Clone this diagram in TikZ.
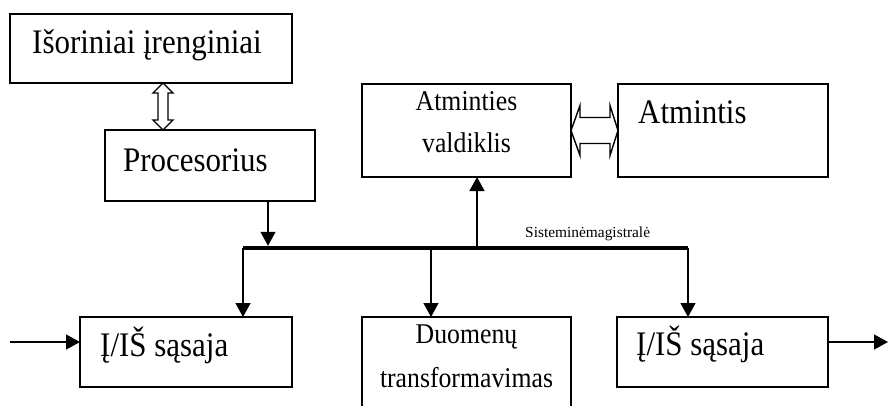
\documentclass[tikz,border=0pt]{standalone}
\usepackage{fontspec}
\setmainfont{Liberation Serif}
\newfontfamily\tallserif[FakeStretch=0.9]{Liberation Serif}
\usetikzlibrary{arrows.meta,calc}
\newcommand\bigfs{\tallserif\fontsize{34.4pt}{34.4pt}\selectfont}
\newcommand\midfs{\tallserif\fontsize{28.6pt}{28.6pt}\selectfont}
\newcommand\tinyfs{\fontsize{15.4pt}{15.4pt}\selectfont}
\tikzset{
  box/.style={draw, line width=1.4pt, rectangle, inner sep=0pt, outer sep=0pt, anchor=north west},
  lbl/.style={inner sep=0pt, anchor=base west},
  ctr/.style={inner sep=0pt, anchor=base},
  arr/.style={line width=1.4pt, -{Triangle[length=14pt,width=15pt]}},
  hollow/.style={draw, line width=1.4pt, fill=white, line join=miter},
  bus/.style={line width=4.5pt},
}
\begin{document}
\begin{tikzpicture}[x=1pt,y=-1pt]
\useasboundingbox (0,0) rectangle (888,405);
\clip (0,0) rectangle (888,405);

% blocks
\node[box, minimum width=282pt, minimum height=69pt]  (ext)  at (10,14)  {};
\node[box, minimum width=210pt, minimum height=71pt]  (proc) at (105,130) {};
\node[box, minimum width=209pt, minimum height=93pt]  (ctrl) at (362,84) {};
\node[box, minimum width=210pt, minimum height=93pt]  (mem)  at (618,84) {};
\node[box, minimum width=212pt, minimum height=70pt]  (io1)  at (80,317) {};
\node[box, minimum width=209pt, minimum height=100pt] (duo)  at (362,317) {};
\node[box, minimum width=211pt, minimum height=70pt]  (io2)  at (617,317) {};

% block texts
\node[lbl, font=\bigfs] (extT)  at (32,53)   {Išoriniai įrenginiai};
\node[lbl, font=\bigfs] (procT) at (123,171) {Procesorius};
\node[ctr, font=\midfs] (ctrlA) at (466.5,110) {Atminties};
\node[ctr, font=\midfs] (ctrlB) at (466.5,152) {valdiklis};
\node[lbl, font=\bigfs] (memT)  at (638,123) {Atmintis};
\node[lbl, font=\bigfs] (io1T)  at (100,356) {Į/IŠ sąsaja};
\node[ctr, font=\midfs] (duoA)  at (466.5,343) {Duomenų};
\node[ctr, font=\midfs] (duoB)  at (466.5,387) {transformavimas};
\node[lbl, font=\bigfs] (io2T)  at (636,355) {Į/IŠ sąsaja};

% system bus
\coordinate (bl) at (243,248);
\coordinate (br) at (688,248);
\coordinate (tp) at (268,248);
\coordinate (tm) at (477,248);
\coordinate (td) at (431,248);
\draw[bus] (bl) -- (br);
\node[lbl, font=\tinyfs] (busT) at (525,237) {Sisteminėmagistralė};

% bus taps
\draw[arr] (proc.south -| tp) -- ([yshift=2.25pt]tp);
\draw[arr] ([yshift=2.25pt]tm) -- (ctrl.south -| tm);
\draw[arr] (bl) -- (io1.north -| bl);
\draw[arr] (td) -- (duo.north -| td);
\draw[arr] (br) -- (io2.north -| br);

% external input / output
\coordinate (in)  at (10,342);
\coordinate (out) at (888,342);
\draw[arr] (in) -- (io1.west |- in);
\draw[arr] (io2.east |- out) -- (out);

% hollow double arrow: devices <-> processor
\coordinate (vx) at (163,0);
\draw[hollow] (ext.south -| vx) -- ++(10,10) -- ++(-5,0)
  -- ($(proc.north -| vx)+(5,-10)$) -- ++(5,0) -- (proc.north -| vx)
  -- ++(-10,-10) -- ++(5,0) -- ($(ext.south -| vx)+(-5,10)$) -- ++(-5,0) -- cycle;

% hollow double arrow: controller <-> memory
\draw[hollow] (ctrl.east) -- ++(9,-25) -- ++(0,12)
  -- ($(mem.west)+(-8,-13)$) -- ++(0,-12) -- (mem.west)
  -- ++(-8,25) -- ++(0,-12) -- ($(ctrl.east)+(9,13)$) -- ++(0,12) -- cycle;
\end{tikzpicture}
\end{document}
